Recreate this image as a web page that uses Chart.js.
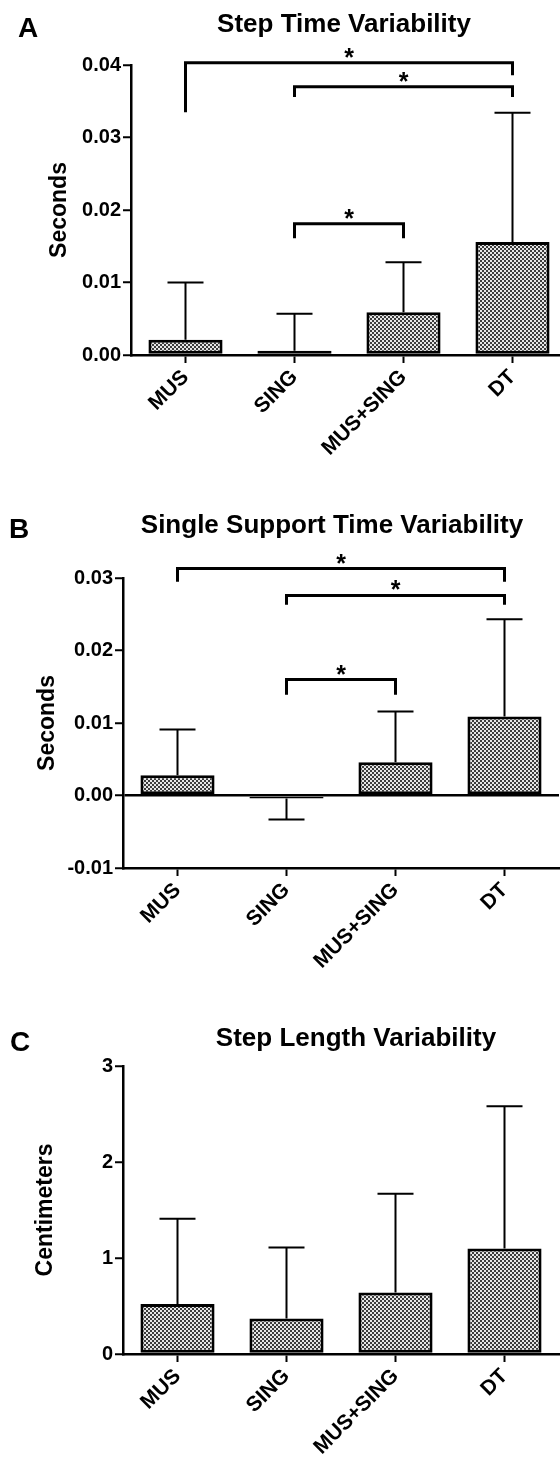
<!DOCTYPE html>
<html>
<head>
<meta charset="utf-8">
<script src="https://cdn.jsdelivr.net/npm/chart.js@4.4.0/dist/chart.umd.min.js"></script>
<style>
html, body { margin: 0; padding: 0; background: #fff; width: 560px; height: 1462px; overflow: hidden; }
canvas { position: absolute; left: 0; }
</style>
</head>
<body>
<canvas id="chartA" width="570" height="480" style="top:0"></canvas>
<canvas id="chartB" width="570" height="520" style="top:480px"></canvas>
<canvas id="chartC" width="570" height="462" style="top:1000px"></canvas>
<script>
const categories = ['MUS', 'SING', 'MUS+SING', 'DT'];

const stepTimeMean = [0.0021, 0.0006, 0.0059, 0.0156];
const stepTimeSD = [0.0079, 0.0051, 0.0069, 0.0178];
const stepTimeTicks = [0, 0.01, 0.02, 0.03, 0.04];

const supportTimeMean = [0.0028, -0.0004, 0.0046, 0.0109];
const supportTimeSD = [0.0063, 0.0029, 0.0070, 0.0134];
const supportTimeTicks = [-0.01, 0, 0.01, 0.02, 0.03];

const stepLengthMean = [0.52, 0.37, 0.64, 1.10];
const stepLengthSD = [0.89, 0.74, 1.03, 1.48];
const stepLengthTicks = [0, 1, 2, 3];

// significance brackets: [from, to, level, leg end at "from", leg end at "to"]
const stepTimeSig = [[0, 3, 0.0403, 0.0335, 0.0386], [1, 3, 0.0370, 0.0356, 0.0356], [1, 2, 0.0181, 0.0161, 0.0161]];
const supportTimeSig = [[0, 3, 0.0313, 0.0295, 0.0295], [1, 3, 0.0276, 0.0263, 0.0263], [1, 2, 0.0160, 0.0139, 0.0139]];

const FONT = "'Liberation Sans', Arial, sans-serif";

function checker() {
    const c = document.createElement('canvas');
    c.width = 4; c.height = 4;
    const g = c.getContext('2d');
    g.fillStyle = '#e6e6e6';
    g.fillRect(0, 0, 4, 4);
    g.fillStyle = '#3c3c3c';
    g.fillRect(0, 0, 2, 2);
    g.fillRect(2, 2, 2, 2);
    return g.createPattern(c, 'repeat');
}

const extras = {
    id: 'extras',
    afterDatasetsDraw(chart) {
        const o = chart.options.plugins.extras;
        const ctx = chart.ctx, x = chart.scales.x, y = chart.scales.y;
        ctx.save();
        ctx.strokeStyle = '#000';
        ctx.lineWidth = 2;
        o.mean.forEach((m, i) => {
            const px = x.getPixelForValue(i);
            const end = m + (m < 0 ? -o.sd[i] : o.sd[i]);
            ctx.beginPath();
            ctx.moveTo(px, y.getPixelForValue(m));
            ctx.lineTo(px, y.getPixelForValue(end));
            ctx.moveTo(px - 18, y.getPixelForValue(end));
            ctx.lineTo(px + 18, y.getPixelForValue(end));
            ctx.stroke();
        });
        ctx.lineWidth = 3;
        ctx.fillStyle = '#000';
        ctx.font = 'bold 25px ' + FONT;
        ctx.textAlign = 'center';
        ctx.textBaseline = 'alphabetic';
        (o.sig || []).forEach(s => {
            const x1 = x.getPixelForValue(s[0]), x2 = x.getPixelForValue(s[1]);
            const yl = y.getPixelForValue(s[2]);
            ctx.beginPath();
            ctx.moveTo(x1, y.getPixelForValue(s[3]));
            ctx.lineTo(x1, yl);
            ctx.lineTo(x2, yl);
            ctx.lineTo(x2, y.getPixelForValue(s[4]));
            ctx.stroke();
            ctx.fillText('*', (x1 + x2) / 2, yl + 3);
        });
        ctx.font = 'bold 28px ' + FONT;
        ctx.textAlign = 'left';
        ctx.fillText(o.letter, o.letterX, o.titleY + 5);
        ctx.font = 'bold 26px ' + FONT;
        ctx.textAlign = 'center';
        ctx.fillText(o.title, o.titleX, o.titleY);
        ctx.restore();
    }
};

function makeChart(id, cfg) {
    const el = document.getElementById(id);
    return new Chart(el, {
        type: 'bar',
        data: {
            labels: categories,
            datasets: [{
                data: cfg.mean,
                backgroundColor: checker(),
                borderColor: '#000',
                borderWidth: 3,
                borderSkipped: false,
                barPercentage: 0.68,
                categoryPercentage: 1
            }]
        },
        options: {
            responsive: false,
            animation: false,
            layout: { padding: { left: 0, top: cfg.top, right: 570 - cfg.right, bottom: 0 } },
            plugins: {
                legend: { display: false },
                tooltip: { enabled: false },
                extras: cfg
            },
            scales: {
                x: {
                    grid: { offset: false, drawOnChartArea: false, tickLength: 8, tickWidth: 2, tickColor: '#000' },
                    border: { display: true, color: '#000', width: 2.5 },
                    ticks: { color: '#000', font: { family: FONT, weight: 'bold', size: 21 }, maxRotation: 45, minRotation: 45, padding: 2 },
                    afterFit(s) { s.height = el.height - cfg.bottom; }
                },
                y: {
                    min: cfg.ticks[0],
                    max: cfg.ticks[cfg.ticks.length - 1],
                    afterBuildTicks(s) { s.ticks = cfg.ticks.map(v => ({ value: v })); },
                    grid: {
                        drawOnChartArea: !!cfg.zeroLine,
                        color: c => (c.tick && c.tick.value === 0 ? '#000' : 'rgba(0,0,0,0)'),
                        lineWidth: 2.5,
                        tickLength: 8, tickWidth: 2, tickColor: '#000'
                    },
                    border: { display: true, color: '#000', width: 2.5 },
                    ticks: {
                        color: '#000',
                        font: { family: FONT, weight: 'bold', size: 20 },
                        padding: 2,
                        callback: v => v.toFixed(cfg.digits)
                    },
                    title: {
                        display: true, text: cfg.yTitle, color: '#000',
                        font: { family: FONT, weight: 'bold', size: 23 },
                        padding: { top: cfg.yTitleX - 14, bottom: 0 }
                    },
                    afterFit(s) { s.width = cfg.left; }
                }
            }
        },
        plugins: [extras]
    });
}

makeChart('chartA', {
    mean: stepTimeMean, sd: stepTimeSD, ticks: stepTimeTicks, sig: stepTimeSig, digits: 2,
    left: 131, right: 567, top: 65, bottom: 355,
    yTitle: 'Seconds', yTitleX: 60,
    letter: 'A', letterX: 18, title: 'Step Time Variability', titleX: 344, titleY: 32
});

makeChart('chartB', {
    mean: supportTimeMean, sd: supportTimeSD, ticks: supportTimeTicks, sig: supportTimeSig, digits: 2,
    left: 123, right: 559, top: 98, bottom: 388, zeroLine: true,
    yTitle: 'Seconds', yTitleX: 48,
    letter: 'B', letterX: 9, title: 'Single Support Time Variability', titleX: 332, titleY: 53
});

makeChart('chartC', {
    mean: stepLengthMean, sd: stepLengthSD, ticks: stepLengthTicks, digits: 0,
    left: 123, right: 559, top: 66, bottom: 354,
    yTitle: 'Centimeters', yTitleX: 46,
    letter: 'C', letterX: 10, title: 'Step Length Variability', titleX: 356, titleY: 46
});
</script>
</body>
</html>
